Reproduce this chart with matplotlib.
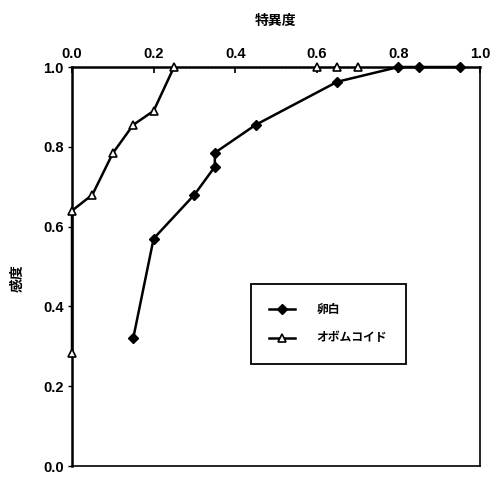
import matplotlib
matplotlib.use('Agg')
import matplotlib.pyplot as plt

plt.rcParams['font.family'] = ['Liberation Sans', 'Noto Sans CJK JP', 'DejaVu Sans']

# 卵白 (egg white)
egg_spec = [0.15, 0.20, 0.30, 0.35, 0.35, 0.45, 0.65, 0.80, 0.85, 0.95]
egg_sens = [0.32, 0.57, 0.68, 0.75, 0.785, 0.855, 0.963, 1.0, 1.0, 1.0]

# オボムコイド (ovomucoid)
ovo_spec = [0.0, 0.0, 0.05, 0.10, 0.15, 0.20, 0.25, 0.60, 0.65, 0.70]
ovo_sens = [0.283, 0.64, 0.68, 0.784, 0.855, 0.89, 1.0, 1.0, 1.0, 1.0]

ticks = [0.0, 0.2, 0.4, 0.6, 0.8, 1.0]
tick_labels = ['0.0', '0.2', '0.4', '0.6', '0.8', '1.0']

fig = plt.figure(figsize=(4.97, 4.78), dpi=100)
ax = fig.add_axes([0.1449, 0.0251, 0.821, 0.8347])

ax.plot(egg_spec, egg_sens, color='black', lw=1.8, marker='D', ms=5,
        mfc='black', mec='black', label='卵白', clip_on=False, zorder=3)
ax.plot(ovo_spec[:7], ovo_sens[:7], color='black', lw=1.8, clip_on=False, zorder=2)
ax.plot(ovo_spec[6:], ovo_sens[6:], color='black', lw=1.0, ls=':', clip_on=False, zorder=2)
ax.plot(ovo_spec, ovo_sens, color='black', lw=0, marker='^', ms=6,
        mfc='white', mec='black', mew=1.2, clip_on=False, zorder=4)
# legend proxy for ovomucoid
ax.plot([], [], color='black', lw=1.8, marker='^', ms=6, mfc='white',
        mec='black', mew=1.2, label='オボムコイド')

ax.set_xlim(0, 1)
ax.set_ylim(0, 1)
ax.xaxis.tick_top()
ax.xaxis.set_label_position('top')
ax.set_xticks(ticks)
ax.set_xticklabels(tick_labels)
ax.set_yticks(ticks)
ax.set_yticklabels(tick_labels)
ax.tick_params(axis='x', direction='in', length=4, width=1.2, pad=4)
ax.tick_params(axis='y', direction='out', length=3, width=1.0, pad=3)
for lab in ax.get_xticklabels() + ax.get_yticklabels():
    lab.set_fontsize(10.5)
    lab.set_fontweight('bold')

ax.set_xlabel('特異度', fontsize=10, fontweight='bold', labelpad=16,
              family=['Noto Sans CJK JP'])
ax.set_ylabel('感度', fontsize=10, fontweight='bold',
              family=['Noto Sans CJK JP'])
ax.yaxis.set_label_coords(-0.115, 0.47)

ax.spines['top'].set_linewidth(1.8)
ax.spines['left'].set_linewidth(1.8)
ax.spines['right'].set_linewidth(1.2)
ax.spines['bottom'].set_linewidth(1.2)

leg = ax.legend(loc='center', bbox_to_anchor=(0.628, 0.356), frameon=True,
                fancybox=False, edgecolor='black', framealpha=1,
                prop={'family': ['Noto Sans CJK JP'], 'weight': 'bold', 'size': 8.5},
                borderpad=1.6, labelspacing=1.3, handlelength=2.2, handletextpad=1.8)
leg.get_frame().set_linewidth(1.3)

fig.savefig('out.png', dpi=100)
